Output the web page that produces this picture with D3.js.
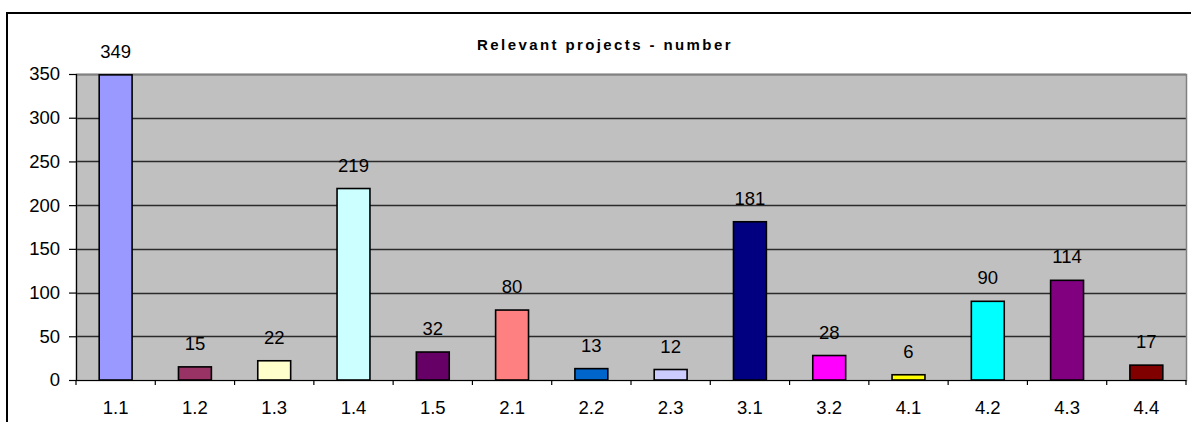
<!DOCTYPE html>
<html>
<head>
<meta charset="utf-8">
<script src="https://cdn.jsdelivr.net/npm/d3@7"></script>
<style>
  html, body { margin: 0; padding: 0; background: #ffffff; }
  svg { display: block; font-family: Arial, "Liberation Sans", sans-serif; }
</style>
</head>
<body>
<svg id="chart" width="1191" height="422"></svg>
<script>
// Measure codes along the x axis
const categories = ["1.1", "1.2", "1.3", "1.4", "1.5", "2.1", "2.2", "2.3", "3.1", "3.2", "4.1", "4.2", "4.3", "4.4"];
// Number of relevant projects per measure
const projects = [349, 15, 22, 219, 32, 80, 13, 12, 181, 28, 6, 90, 114, 17];
// Fill colour of each bar
const barColors = ["#9999ff", "#993366", "#ffffcc", "#ccffff", "#660066", "#ff8080", "#0066cc", "#ccccff", "#000080", "#ff00ff", "#ffff00", "#00ffff", "#800080", "#800000"];
// Value axis ticks
const yTicks = [0, 50, 100, 150, 200, 250, 300, 350];
const chartTitle = "Relevant projects - number";

const svg = d3.select("#chart");
const plot = { left: 76, right: 1186, top: 74, bottom: 380 };
const labelFont = 18.5;

// Outer chart frame (runs off the right and bottom edges)
svg.append("rect")
  .attr("x", 7).attr("y", 13)
  .attr("width", 1240).attr("height", 460)
  .attr("fill", "#ffffff")
  .attr("stroke", "#000000").attr("stroke-width", 2);

const x = d3.scaleBand().domain(categories).range([plot.left, plot.right]).padding(0);
const y = d3.scaleLinear().domain([0, 350]).range([plot.bottom, plot.top]);

// Plot area background
svg.append("rect")
  .attr("x", plot.left).attr("y", plot.top)
  .attr("width", plot.right - plot.left).attr("height", plot.bottom - plot.top)
  .attr("fill", "#c0c0c0");

// Horizontal gridlines
svg.append("g").selectAll("line")
  .data(yTicks.filter(t => t > 0))
  .join("line")
  .attr("x1", plot.left).attr("x2", plot.right)
  .attr("y1", d => Math.round(y(d)) + 0.5).attr("y2", d => Math.round(y(d)) + 0.5)
  .attr("stroke", "#2a2a2a").attr("stroke-width", 1.4);

// Plot area border
svg.append("rect")
  .attr("x", plot.left + 0.5).attr("y", plot.top + 0.5)
  .attr("width", plot.right - plot.left).attr("height", plot.bottom - plot.top)
  .attr("fill", "none")
  .attr("stroke", "#808080").attr("stroke-width", 1.5);

// Bars
const barW = x.bandwidth() * 0.415;
svg.append("g").selectAll("rect")
  .data(projects)
  .join("rect")
  .attr("x", (d, i) => x(categories[i]) + (x.bandwidth() - barW) / 2)
  .attr("y", d => y(d))
  .attr("width", barW)
  .attr("height", d => y(0) - y(d))
  .attr("fill", (d, i) => barColors[i])
  .attr("stroke", "#000000").attr("stroke-width", 1.6);

// Value labels above bars
svg.append("g").selectAll("text")
  .data(projects)
  .join("text")
  .attr("x", (d, i) => x(categories[i]) + x.bandwidth() / 2)
  .attr("y", d => y(d) - 17)
  .attr("text-anchor", "middle")
  .attr("font-size", labelFont)
  .attr("fill", "#000000")
  .text(d => d);

// Y axis
const yAxis = d3.axisLeft(y).tickValues(yTicks).tickSize(7).tickPadding(9);
const gy = svg.append("g").attr("transform", `translate(${plot.left},0)`).call(yAxis);
gy.select(".domain").attr("stroke", "#000000").attr("stroke-width", 1.2);
gy.selectAll(".tick line").attr("stroke", "#000000").attr("stroke-width", 1.2);
gy.selectAll(".tick text").attr("font-size", labelFont).attr("font-family", "Arial, 'Liberation Sans', sans-serif").attr("fill", "#000000");

// X axis with ticks at category boundaries
const gx = svg.append("g").attr("transform", `translate(0,${plot.bottom})`);
gx.append("line")
  .attr("x1", plot.left).attr("x2", plot.right)
  .attr("y1", 0.5).attr("y2", 0.5)
  .attr("stroke", "#000000").attr("stroke-width", 1.2);
gx.selectAll("line.tick")
  .data(categories.map(c => x(c)).concat([plot.right]))
  .join("line")
  .attr("class", "tick")
  .attr("x1", d => d).attr("x2", d => d)
  .attr("y1", 0).attr("y2", 5)
  .attr("stroke", "#000000").attr("stroke-width", 1.2);
gx.selectAll("text")
  .data(categories)
  .join("text")
  .attr("x", d => x(d) + x.bandwidth() / 2)
  .attr("y", 34)
  .attr("text-anchor", "middle")
  .attr("font-size", labelFont)
  .attr("fill", "#000000")
  .text(d => d);

// Title
svg.append("text")
  .attr("x", 605).attr("y", 50)
  .attr("text-anchor", "middle")
  .attr("font-size", 15)
  .attr("font-weight", "bold")
  .attr("letter-spacing", 2.4)
  .text(chartTitle);
</script>
</body>
</html>
